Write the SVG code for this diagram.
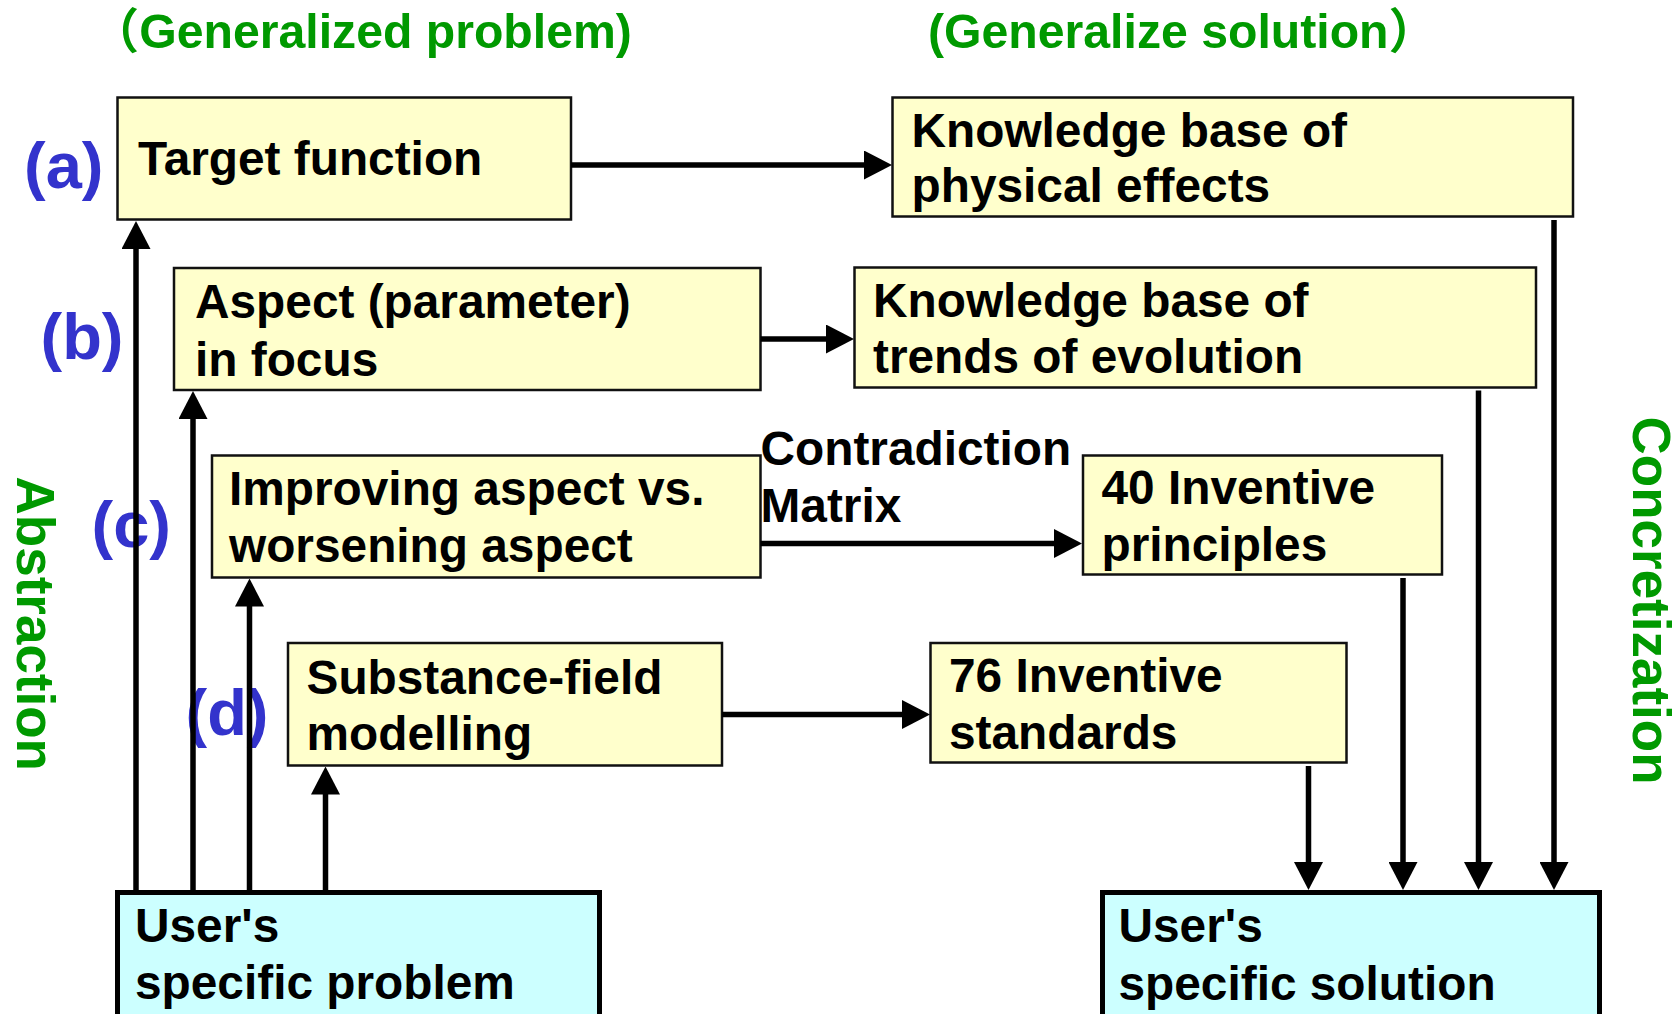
<svg xmlns="http://www.w3.org/2000/svg" width="1677" height="1014" viewBox="0 0 1677 1014">
  <style>
    .box { fill: #FFFFCC; stroke: #111; stroke-width: 2.5; }
    .user { fill: #CCFFFF; stroke: #000; stroke-width: 5; }
    .t { font-family: "Liberation Sans", Arial, sans-serif; font-weight: bold; font-size: 47.8px; fill: #000; }
    .title { font-family: "Liberation Sans", "Noto Sans CJK JP", sans-serif; font-weight: bold; font-size: 48.2px; fill: #009900; }
    .side { font-family: "Liberation Sans", Arial, sans-serif; font-weight: bold; font-size: 53px; fill: #009900; }
    .lbl { font-family: "Liberation Sans", Arial, sans-serif; font-weight: bold; font-size: 65px; fill: #3333CC; }
    .conn line { stroke: #000; stroke-width: 5.5; marker-end: url(#arrow); }
  </style>
  <defs>
    <marker id="arrow" markerUnits="userSpaceOnUse" markerWidth="28" markerHeight="29" refX="18" refY="14.5" orient="auto">
      <path d="M0,0 L28,14.5 L0,29 Z" fill="#000"/>
    </marker>
  </defs>

  <rect width="1677" height="1014" fill="#fff"/>

  <!-- column headings -->
  <text class="title" x="91" y="48">（Generalized problem)</text>
  <text class="title" x="928" y="48">(Generalize solution）</text>

  <!-- direction labels -->
  <text class="side" transform="translate(17,476.5) rotate(90)">Abstraction</text>
  <text class="side" transform="translate(1633,416.5) rotate(90)">Concretization</text>

  <!-- level labels -->
  <text class="lbl" x="24" y="188">(a)</text>
  <text class="lbl" x="40.5" y="359">(b)</text>
  <text class="lbl" x="91.5" y="546.5">(c)</text>
  <text class="lbl" x="185.5" y="734.5">(d)</text>

  <g id="target-function">
    <rect class="box" x="117.5" y="97.5" width="453.5" height="122"/>
    <text class="t" x="138" y="175">Target function</text>
  </g>
  <g id="kb-physical-effects">
    <rect class="box" x="892.5" y="97.5" width="680.5" height="119"/>
    <text class="t" x="911.5" y="146.5">Knowledge base of</text>
    <text class="t" x="911.5" y="201.5">physical effects</text>
  </g>
  <g id="aspect-in-focus">
    <rect class="box" x="174" y="268" width="586.5" height="122"/>
    <text class="t" x="195" y="318">Aspect (parameter)</text>
    <text class="t" x="195" y="375.5">in focus</text>
  </g>
  <g id="kb-trends">
    <rect class="box" x="854.5" y="267.5" width="681.5" height="120"/>
    <text class="t" x="873" y="316.5">Knowledge base of</text>
    <text class="t" x="873" y="373">trends of evolution</text>
  </g>
  <g id="improving-vs-worsening">
    <rect class="box" x="212" y="455.5" width="548.5" height="122"/>
    <text class="t" x="229" y="505">Improving aspect vs.</text>
    <text class="t" x="229" y="561.5">worsening aspect</text>
  </g>
  <g id="inventive-principles">
    <rect class="box" x="1083" y="455.5" width="359" height="119"/>
    <text class="t" x="1101.5" y="504">40 Inventive</text>
    <text class="t" x="1101.5" y="560.5">principles</text>
  </g>
  <g id="substance-field">
    <rect class="box" x="288" y="643" width="434" height="122.5"/>
    <text class="t" x="306.5" y="693.5">Substance-field</text>
    <text class="t" x="306.5" y="750">modelling</text>
  </g>
  <g id="inventive-standards">
    <rect class="box" x="930.5" y="643" width="416" height="119.5"/>
    <text class="t" x="949" y="691.5">76 Inventive</text>
    <text class="t" x="949" y="748.5">standards</text>
  </g>
  <g id="user-problem">
    <rect class="user" x="117.5" y="892.5" width="482" height="140"/>
    <text class="t" x="135" y="942">User's</text>
    <text class="t" x="135" y="999">specific problem</text>
  </g>
  <g id="user-solution">
    <rect class="user" x="1102.5" y="892.5" width="497" height="140"/>
    <text class="t" x="1118.5" y="942">User's</text>
    <text class="t" x="1118.5" y="1000">specific solution</text>
  </g>

  <g id="contradiction-matrix-label">
    <text class="t" x="760.5" y="465">Contradiction</text>
    <text class="t" x="760.5" y="521.5">Matrix</text>
  </g>

  <g class="conn" id="connectors">
    <!-- abstraction: user's problem up to each generalized level -->
    <line x1="136" y1="890" x2="136" y2="231"/>
    <line x1="193" y1="890" x2="193" y2="401"/>
    <line x1="249.5" y1="890" x2="249.5" y2="588.5"/>
    <line x1="325.5" y1="890" x2="325.5" y2="776.5"/>
    <!-- generalized problem to generalized solution -->
    <line x1="571" y1="165" x2="882" y2="165"/>
    <line x1="760.5" y1="339" x2="844" y2="339"/>
    <line x1="760.5" y1="543.5" x2="1072" y2="543.5"/>
    <line x1="722" y1="714.5" x2="920" y2="714.5"/>
    <!-- concretization: generalized solutions down to user's solution -->
    <line x1="1308.5" y1="766" x2="1308.5" y2="880"/>
    <line x1="1403" y1="578" x2="1403" y2="880"/>
    <line x1="1478.5" y1="390.5" x2="1478.5" y2="880"/>
    <line x1="1554" y1="220" x2="1554" y2="880"/>
  </g>
</svg>
